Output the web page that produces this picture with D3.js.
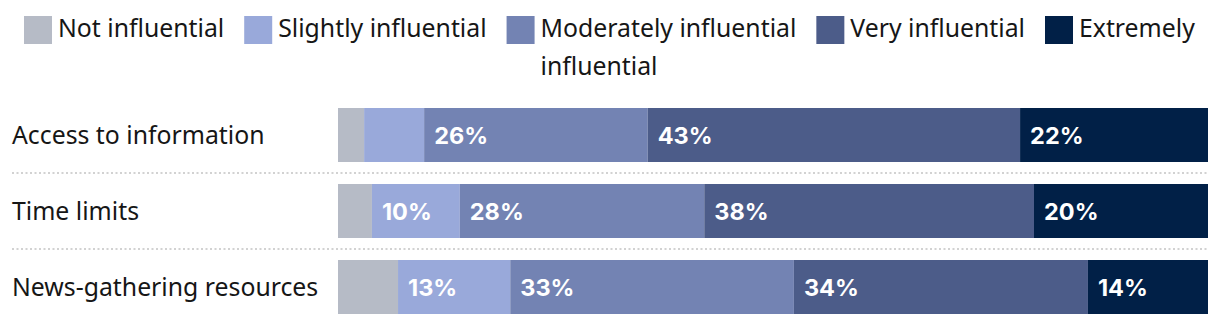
<!DOCTYPE html>
<html><head><meta charset="utf-8">
<script src="https://cdn.jsdelivr.net/npm/d3@7"></script>
<style>body{margin:0;background:#fff}</style></head>
<body><svg id="chart" width="1220" height="326"></svg>
<script>
// Survey: how influential each factor is (share of respondents, %)
const categories = ["Access to information", "Time limits", "News-gathering resources"];
const levels = ["Not influential", "Slightly influential", "Moderately influential", "Very influential", "Extremely influential"];
const notInfluential      = [3.0, 3.9, 6.9];
const slightlyInfluential = [6.9, 10.1, 12.9];
const moderatelyInfluential = [25.7, 28.1, 32.6];
const veryInfluential     = [42.8, 37.9, 33.8];
const extremelyInfluential = [21.6, 20.0, 13.8];
const colors = ["#b6bbc6", "#99a9da", "#7383b3", "#4c5c89", "#012047"];

const series = [notInfluential, slightlyInfluential, moderatelyInfluential, veryInfluential, extremelyInfluential];
const rows = categories.map((c, i) => {
  const r = {category: c};
  levels.forEach((l, j) => r[l] = series[j][i]);
  return r;
});

const W = 1220, H = 326;
const svg = d3.select("#chart");
const labelFont = "'Noto Sans', sans-serif";
const valueFont = "Inter, 'Noto Sans', sans-serif";
const labelSize = 24.8;

const x = d3.scaleLinear().domain([0, 100]).range([338, 1208]);
const y = d3.scaleBand().domain(categories).range([97, 325])
  .paddingInner(22 / 76).paddingOuter(11 / 76);
const color = d3.scaleOrdinal().domain(levels).range(colors);

const stacked = d3.stack().keys(levels)(rows);

// dotted separators between rows
categories.slice(0, -1).forEach(c => {
  const yy = y(c) + y.bandwidth() + y.step() * y.paddingInner() / 2;
  svg.append("line")
    .attr("x1", 12).attr("x2", 1208).attr("y1", yy).attr("y2", yy)
    .attr("stroke", "#d2d2d2").attr("stroke-width", 2).attr("stroke-dasharray", "2 2.5");
});

// category labels
svg.append("g").selectAll("text").data(categories).join("text")
  .attr("x", 12).attr("y", d => y(d) + y.bandwidth() / 2 + 8.5)
  .attr("font-family", labelFont).attr("font-size", labelSize).attr("fill", "#161616")
  .text(d => d);

// stacked bars
const layer = svg.append("g").selectAll("g").data(stacked).join("g")
  .attr("fill", d => color(d.key));
layer.selectAll("rect").data(d => d).join("rect")
  .attr("x", d => x(d[0]))
  .attr("width", d => x(d[1]) - x(d[0]))
  .attr("y", d => y(d.data.category))
  .attr("height", y.bandwidth());

// value labels for segments wide enough to hold them
const fmt = v => d3.format(".0f")(v) + "%";
layer.selectAll("text").data(d => d).join("text")
  .filter(d => d[1] - d[0] >= 8)
  .attr("x", d => x(d[0]) + 10)
  .attr("y", d => y(d.data.category) + y.bandwidth() / 2 + 9)
  .attr("font-family", valueFont).attr("font-weight", 700).attr("font-size", 23.5)
  .attr("fill", "#fff")
  .text(d => fmt(d[1] - d[0]));

// legend (flowing row; words that overflow wrap to a second line)
const legend = svg.append("g");
let cx = 24;
const textXs = [];
const overflow = [];
levels.forEach((l, i) => {
  legend.append("rect").attr("x", cx).attr("y", 16).attr("width", 28).attr("height", 28)
    .attr("fill", colors[i]);
  const tx = cx + 34;
  textXs.push(tx);
  const words = l.split(" ");
  const t = legend.append("text").attr("x", tx).attr("y", 37)
    .attr("font-family", labelFont).attr("font-size", labelSize).attr("fill", "#161616");
  let line = [];
  words.forEach(w => {
    line.push(w);
    t.text(line.join(" "));
    if (tx + t.node().getComputedTextLength() > W - 12 && line.length > 1) {
      line.pop();
      t.text(line.join(" "));
      overflow.push(w);
    }
  });
  cx = tx + t.node().getComputedTextLength() + 20;
});
if (overflow.length) {
  legend.append("text").attr("x", textXs[2]).attr("y", 75)
    .attr("font-family", labelFont).attr("font-size", labelSize).attr("fill", "#161616")
    .text(overflow.join(" "));
}
</script></body></html>
